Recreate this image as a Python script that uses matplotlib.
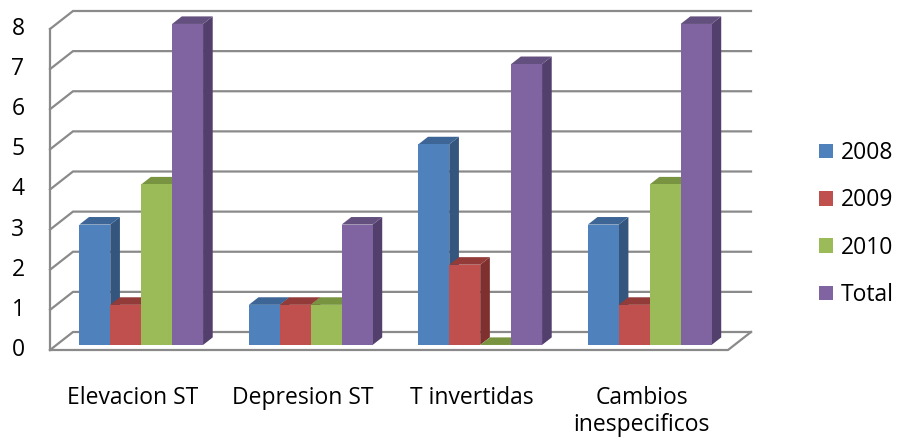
import matplotlib
matplotlib.use('Agg')
import matplotlib.pyplot as plt
from matplotlib.patches import Polygon, Patch

categories = ['Elevacion ST', 'Depresion ST', 'T invertidas', 'Cambios\ninespecificos']
series = ['2008', '2009', '2010', 'Total']
v2008 = [3, 1, 5, 3]
v2009 = [1, 1, 2, 1]
v2010 = [4, 1, 0, 4]
vtotal = [8, 3, 7, 8]
yticks = [0, 1, 2, 3, 4, 5, 6, 7, 8]

# face colours: front, side, top
FRONT = ['#4F81BD', '#C0504D', '#9BBB59', '#8064A2']
SIDE = ['#33557e', '#7f302e', '#67813a', '#523f6c']
TOP = ['#3d6696', '#933b38', '#789440', '#63507f']
GRID = '#8a8a8a'

plt.rcParams['font.family'] = ['Open Sans', 'DejaVu Sans']
FS = 16.5

fig = plt.figure(figsize=(8.99, 4.41), dpi=100)
ax = fig.add_axes([50/899, 91/441, 678/899, 321/441])
ax.set_xlim(0, 4)
ax.set_ylim(0, 8)
ax.axis('off')

# pixel -> data unit helpers for the oblique depth
px_x = 4 / 678.0
px_y = 8 / 321.0
WALL_DX, WALL_DY = 23 * px_x, 18 * px_y
BAR_F, BAR_B = 0.28, 0.70  # bar front/back as fraction of the depth

def grid_line(v):
    xs = [0, WALL_DX, 4 + WALL_DX]
    ys = [v, v + WALL_DY, v + WALL_DY]
    ax.plot(xs, ys, color=GRID, lw=1.6, clip_on=False, zorder=1,
            solid_joinstyle='miter')

for v in yticks:
    grid_line(v)
    ax.text(-32 * px_x, v, str(v), ha='center', va='center', fontsize=FS)

# left wall front edge and floor
ax.plot([0, 0], [0, 8], color=GRID, lw=1.6, clip_on=False, zorder=1)
ax.plot([0, 4, 4 + WALL_DX], [0, 0, WALL_DY], color=GRID, lw=1.6,
        clip_on=False, zorder=1)

data = [v2008, v2009, v2010, vtotal]
group_w = 0.73
bw = group_w / len(series)
fx, fy = BAR_F * WALL_DX, BAR_F * WALL_DY
bdx, bdy = (BAR_B - BAR_F) * WALL_DX, (BAR_B - BAR_F) * WALL_DY

z = 2
for i in range(len(categories)):
    left0 = i + (1 - group_w) / 2 + fx
    for j, vals in enumerate(data):
        x0 = left0 + j * bw
        x1 = x0 + bw
        y0 = fy
        y1 = fy + vals[i]
        front = Polygon([(x0, y0), (x1, y0), (x1, y1), (x0, y1)],
                        closed=True, fc=FRONT[j], ec='none', zorder=z)
        side = Polygon([(x1, y0), (x1 + bdx, y0 + bdy), (x1 + bdx, y1 + bdy), (x1, y1)],
                       closed=True, fc=SIDE[j], ec='none', zorder=z)
        top = Polygon([(x0, y1), (x1, y1), (x1 + bdx, y1 + bdy), (x0 + bdx, y1 + bdy)],
                      closed=True, fc=TOP[j], ec='none', zorder=z)
        for p in (side, top, front):
            p.set_clip_on(False)
            ax.add_patch(p)
        z += 1
    ax.text(i + 0.49, -36 * px_y, categories[i], ha='center', va='top',
            fontsize=FS, linespacing=1.15)

handles = [Patch(fc=c, ec='none') for c in FRONT]
fig.legend(handles, series, loc='center left', bbox_to_anchor=(819/899, 1 - 224/441),
           frameon=False, fontsize=FS, handlelength=0.6, handleheight=0.6,
           handletextpad=0.34, labelspacing=1.02, borderpad=0, borderaxespad=0)

fig.savefig('out.png', dpi=100)
